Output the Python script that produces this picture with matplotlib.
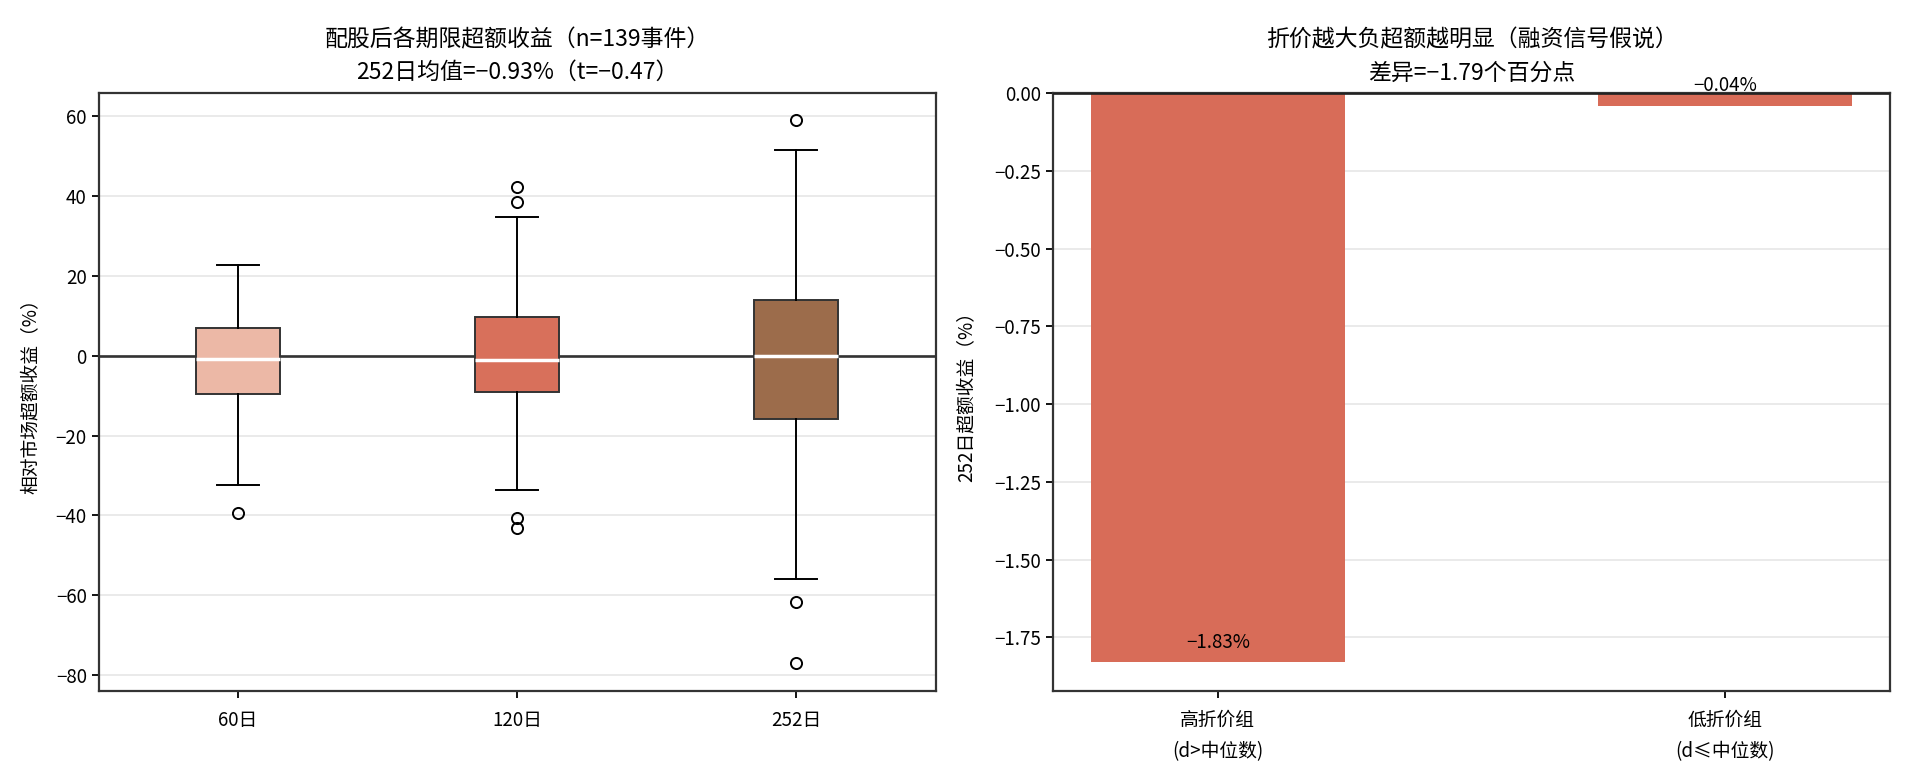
import matplotlib.pyplot as plt

plt.rcParams['font.family'] = ['Noto Sans CJK SC', 'DejaVu Sans']
plt.rcParams['axes.unicode_minus'] = True

# box stats
horizons = ["60日", "120日", "252日"]
q1 = [-9.5, -9.2, -15.8]
med = [-0.7, -1.0, 0.0]
q3 = [7.0, 9.8, 14.0]
whis_lo = [-32.3, -33.7, -56.0]
whis_hi = [22.7, 34.7, 51.5]
fliers = [[-39.3], [42.2, 38.6, -40.6, -43.1], [59.0, -61.8, -77.1]]
box_colors = ["#ecb8a6", "#d8705b", "#9c6c4b"]

groups = ["高折价组\n(d>中位数)", "低折价组\n(d≤中位数)"]
group_ret = [-1.83, -0.04]
bar_color = "#d86c58"

fig, (ax1, ax2) = plt.subplots(1, 2, figsize=(19.14, 7.83), dpi=100)
fig.subplots_adjust(left=0.0515, right=0.9875, top=0.881, bottom=0.118, wspace=0.14)

stats = []
for i in range(3):
    stats.append(dict(q1=q1[i], med=med[i], q3=q3[i], whislo=whis_lo[i],
                      whishi=whis_hi[i], fliers=fliers[i], label=horizons[i]))

ax1.axhline(0, color="#333333", lw=1.9, zorder=1)
bp = ax1.bxp(stats, widths=0.3, patch_artist=True, zorder=3,
             boxprops=dict(edgecolor="#333333", lw=1.4),
             medianprops=dict(color="white", lw=2.5),
             whiskerprops=dict(color="black", lw=1.4),
             capprops=dict(color="black", lw=1.4),
             flierprops=dict(marker="o", markerfacecolor="none", markeredgecolor="black",
                             markersize=8, markeredgewidth=1.4))
for patch, c in zip(bp["boxes"], box_colors):
    patch.set_facecolor(c)
ax1.set_title("配股后各期限超额收益（n=139事件）\n252日均值=−0.93%（t=−0.47）",
              fontsize=16.5, pad=10, linespacing=1.55)
ax1.set_ylabel("相对市场超额收益（%）", fontsize=13.5, labelpad=10)
ax1.grid(axis="y", color="#e6e6e6", lw=1.2)
ax1.set_axisbelow(True)

bars = ax2.bar(range(len(groups)), group_ret, width=0.5, color=bar_color, zorder=2)
ax2.axhline(0, color="#222222", lw=1.9, zorder=3)
for i, v in enumerate(group_ret):
    ax2.text(i, v + 0.03, f"{v:.2f}%".replace("-", "−"), ha="center", va="bottom", fontsize=13.5, zorder=4)
ax2.set_xticks(range(len(groups)), groups)
ax2.set_title("折价越大负超额越明显（融资信号假说）\n差异=−1.79个百分点",
              fontsize=16.5, pad=10, linespacing=1.55)
ax2.set_ylabel("252日超额收益（%）", fontsize=13.5, labelpad=12)
ax2.grid(axis="y", color="#e6e6e6", lw=1.2)
ax2.set_axisbelow(True)

for ax in (ax1, ax2):
    ax.tick_params(labelsize=13.5, width=1.3, length=5)
    ax.tick_params(axis="x", pad=9)
    for lab in ax.get_xticklabels():
        lab.set_linespacing(1.6)
    for s in ax.spines.values():
        s.set_color("#333333")
        s.set_linewidth(1.6)

fig.savefig("out.png", dpi=100)
